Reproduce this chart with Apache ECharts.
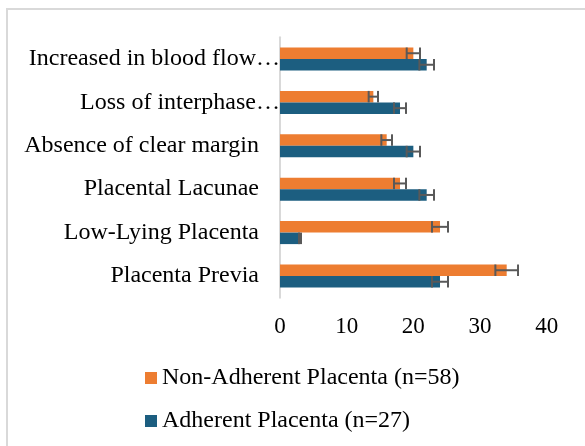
<!DOCTYPE html>
<html><head><meta charset="utf-8">
<script src="https://cdn.jsdelivr.net/npm/echarts@6/dist/echarts.min.js"></script>
<style>html,body{margin:0;padding:0;background:#fff}#c{width:585px;height:446px}</style>
</head><body><div id="c"></div>
<script>
const categories = ["Placenta Previa","Low-Lying Placenta","Placental Lacunae","Absence of clear margin","Loss of interphase\u2026","Increased in blood flow\u2026"];
const truncated = [false,false,false,false,true,true];
const nonAdherent = [34, 24, 18, 16, 14, 20];
const nonAdherentErr = [1.7, 1.2, 0.9, 0.8, 0.7, 1.0];
const adherent = [24, 3, 22, 20, 18, 22];
const adherentErr = [1.2, 0.15, 1.1, 1.0, 0.9, 1.1];
const xTicks = [0, 10, 20, 30, 40];

const FONT = 'Liberation Serif';
const BW = 11.5;
const chart = echarts.init(document.getElementById('c'), null, {renderer:'canvas'});

function errSeries(vals, errs, dy) {
  return {
    type: 'custom',
    silent: true,
    z: 10,
    data: vals.map((v, i) => [v, i, errs[i]]),
    encode: {x: 0, y: 1},
    renderItem: function (params, api) {
      const v = api.value(0), i = api.value(1), e = api.value(2);
      const p1 = api.coord([v - e, i]);
      const p2 = api.coord([v + e, i]);
      const y = p1[1] + dy;
      const h = BW / 2;
      const st = {stroke: '#595959', lineWidth: 2};
      return {type: 'group', children: [
        {type: 'line', shape: {x1: p1[0], y1: y, x2: p2[0], y2: y}, style: st},
        {type: 'line', shape: {x1: p1[0], y1: y - h, x2: p1[0], y2: y + h}, style: st},
        {type: 'line', shape: {x1: p2[0], y1: y - h, x2: p2[0], y2: y + h}, style: st}
      ]};
    }
  };
}

chart.setOption({
  animation: false,
  graphic: [{type: 'polyline', shape: {points: [[7, 460], [7, 9], [620, 9]]}, style: {fill: 'none', stroke: '#d9d9d9', lineWidth: 2}, silent: true}],
  grid: {left: 280, right: 38.3, top: 37.3, bottom: 148.3, containLabel: false},
  legend: {
    orient: 'vertical', left: 140, top: 361,
    data: ['Non-Adherent Placenta (n=58)', 'Adherent Placenta (n=27)'],
    icon: 'rect', itemWidth: 12, itemHeight: 12, itemGap: 19,
    textStyle: {fontFamily: FONT, fontSize: 24, lineHeight: 24, color: '#000'}
  },
  xAxis: {
    type: 'value', min: 0, max: 40, interval: 10,
    axisLine: {show: false}, axisTick: {show: false}, splitLine: {show: false},
    axisLabel: {fontFamily: FONT, fontSize: 23, color: '#000', margin: 18,
      formatter: v => xTicks.includes(v) ? String(v) : ''}
  },
  yAxis: {
    type: 'category', data: categories,
    axisLine: {show: true, lineStyle: {color: '#d9d9d9', width: 2}},
    axisTick: {show: false},
    axisLabel: {
      margin: 0, fontFamily: FONT, fontSize: 24, color: '#000',
      formatter: function (v, i) { return truncated[i] ? '{a|' + v + '}' : '{a|' + v + '}{s|}'; },
      rich: {a: {fontFamily: FONT, fontSize: 24, color: '#000'}, s: {width: 21}}
    }
  },
  series: [
    {name: 'Non-Adherent Placenta (n=58)', type: 'bar', data: nonAdherent, barWidth: BW, barGap: '0%', itemStyle: {color: '#ED7D31'}},
    {name: 'Adherent Placenta (n=27)', type: 'bar', data: adherent, barWidth: BW, barGap: '0%', itemStyle: {color: '#1C5E80'}},
    errSeries(nonAdherent, nonAdherentErr, -BW / 2),
    errSeries(adherent, adherentErr, BW / 2)
  ]
});
</script></body></html>
